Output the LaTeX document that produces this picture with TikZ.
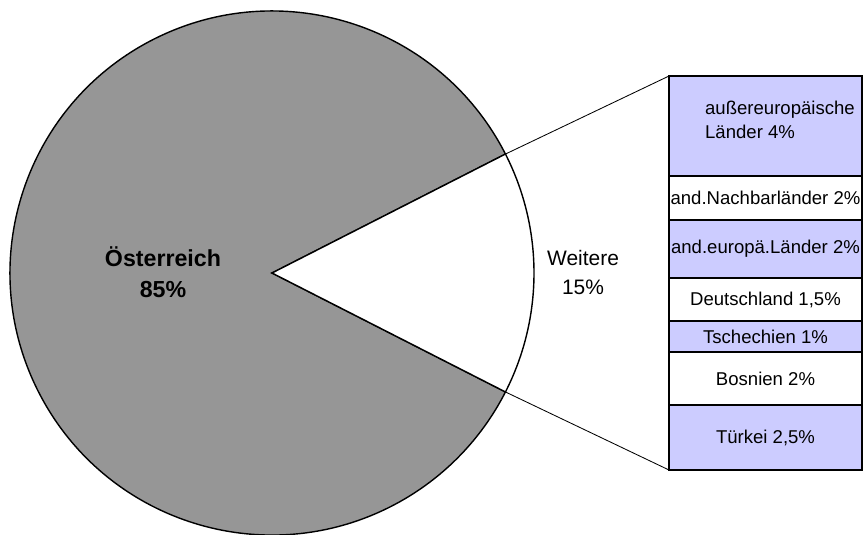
\documentclass[tikz,border=0pt]{standalone}
\usepackage{fontspec}
\setmainfont{Liberation Sans}
\usepackage{tikz}
\usetikzlibrary{positioning,calc}
\definecolor{lavender}{RGB}{204,204,255}
\definecolor{piegray}{RGB}{150,150,150}

\begin{document}
\begin{tikzpicture}[
  font=\fontsize{13.2}{17}\selectfont,
  seg/.style={draw, line width=1.2pt, minimum width=4.825cm, inner sep=0pt,
              outer sep=0pt, text centered, anchor=north west},
  lav/.style={seg, fill=lavender},
  wht/.style={seg, fill=white},
  lead/.style={line width=0.6pt},
  slice/.style={draw, line width=1pt},
]
\useasboundingbox (0,0) rectangle (21.6,13.35);

% pie: Oesterreich 85%, Weitere 15%
\coordinate (c) at (6.8,6.525);
\draw[slice, fill=piegray] (c) -- ++(27:6.55) arc (27:333:6.55) -- cycle;
\draw[slice, fill=white] (c) -- ++(-27:6.55) arc (-27:27:6.55) -- cycle;
\coordinate (wtop) at ($(c)+(27:6.55)$);
\coordinate (wbot) at ($(c)+(-27:6.55)$);

\node[font=\bfseries\fontsize{16.5}{22}\selectfont, align=center] (oest) at (4.075,6.55) {Österreich\\85\%};
\node[font=\fontsize{14.9}{20.6}\selectfont, align=center] (weit) at (14.575,6.54) {Weitere\\15\%};

% breakdown of the 15%
\node[lav, minimum height=2.5cm]   (s1) at (16.725,11.45) {};
\node[wht, minimum height=1.1cm]   (s2) at (s1.south west) {and.Nachbarländer 2\%};
\node[lav, minimum height=1.45cm]  (s3) at (s2.south west) {and.europä.Länder 2\%};
\node[wht, minimum height=1.075cm] (s4) at (s3.south west) {Deutschland 1,5\%};
\node[lav, minimum height=0.775cm] (s5) at (s4.south west) {Tschechien 1\%};
\node[wht, minimum height=1.325cm] (s6) at (s5.south west) {Bosnien 2\%};
\node[lav, minimum height=1.625cm] (s7) at (s6.south west) {Türkei 2,5\%};
\node[anchor=west, align=left] (s1txt) at ($(s1.west)+(0.78,0.15)$) {außereuropäische\\Länder 4\%};

\draw[lead] (wtop) -- (s1.north west);
\draw[lead] (wbot) -- (s7.south west);
\end{tikzpicture}
\end{document}
